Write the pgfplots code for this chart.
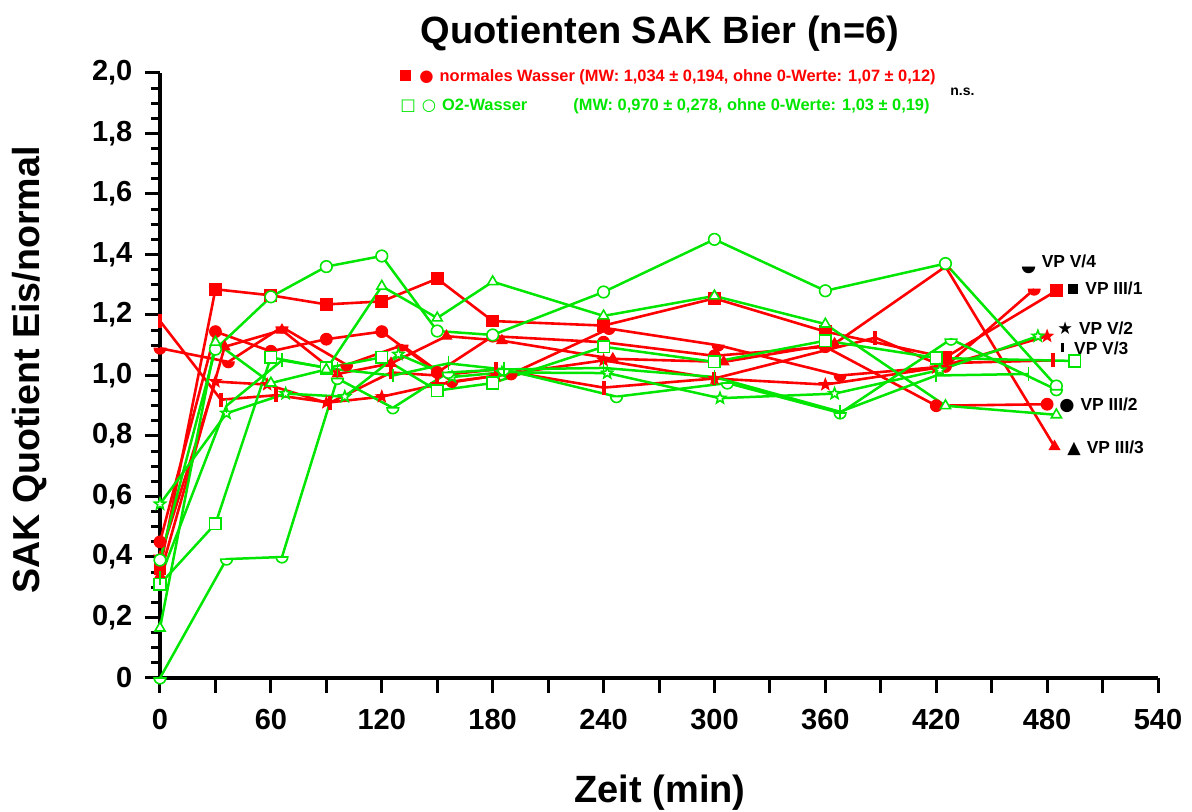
\documentclass[border=0pt]{standalone}
\usepackage{fontspec}
\setmainfont{Liberation Sans}
\newfontfamily\symfont{DejaVu Sans}
\usepackage{pgfplots}
\pgfplotsset{compat=1.18}

\definecolor{rd}{RGB}{255,0,0}
\definecolor{gn}{RGB}{0,230,0}

% lower half disk
\pgfdeclareplotmark{hdisk}{%
  \pgfpathmoveto{\pgfpoint{-\pgfplotmarksize}{0pt}}%
  \pgfpatharc{180}{360}{\pgfplotmarksize}%
  \pgfpathclose
  \pgfusepathqfillstroke}
% short vertical bar
\pgfdeclareplotmark{vbar}{%
  \pgfpathmoveto{\pgfpoint{0pt}{-1.2\pgfplotmarksize}}%
  \pgfpathlineto{\pgfpoint{0pt}{1.2\pgfplotmarksize}}%
  \pgfusepathqstroke}
% five-pointed star polygon
\pgfdeclareplotmark{pstar}{%
  \pgfpathmoveto{\pgfpointpolar{90}{\pgfplotmarksize}}%
  \pgfpathlineto{\pgfpointpolar{126}{0.42\pgfplotmarksize}}%
  \pgfpathlineto{\pgfpointpolar{162}{\pgfplotmarksize}}%
  \pgfpathlineto{\pgfpointpolar{198}{0.42\pgfplotmarksize}}%
  \pgfpathlineto{\pgfpointpolar{234}{\pgfplotmarksize}}%
  \pgfpathlineto{\pgfpointpolar{270}{0.42\pgfplotmarksize}}%
  \pgfpathlineto{\pgfpointpolar{306}{\pgfplotmarksize}}%
  \pgfpathlineto{\pgfpointpolar{342}{0.42\pgfplotmarksize}}%
  \pgfpathlineto{\pgfpointpolar{18}{\pgfplotmarksize}}%
  \pgfpathlineto{\pgfpointpolar{54}{0.42\pgfplotmarksize}}%
  \pgfpathclose
  \pgfusepathqfillstroke}

\pgfplotsset{
  redser/.style={color=rd, line width=1.3pt, mark size=2.9pt,
    mark options={solid, fill=rd, line width=0.6pt}},
  grnser/.style={color=gn, line width=1.25pt, mark size=2.9pt,
    mark options={solid, fill=white, line width=0.8pt}},
}

\begin{document}
\begin{tikzpicture}
\path[use as bounding box] (-80pt,-67pt) rectangle (516pt,339pt);
\begin{axis}[
  scale only axis, width=499pt, height=302.5pt,
  xmin=0, xmax=540, ymin=0, ymax=2,
  axis x line*=bottom, axis y line*=left,
  axis line style={line width=2pt},
  xtick={0,30,...,540},
  xticklabels={0,,60,,120,,180,,240,,300,,360,,420,,480,,540},
  ytick={0,0.2,...,2.01},
  yticklabels={0,{0,2},{0,4},{0,6},{0,8},{1,0},{1,2},{1,4},{1,6},{1,8},{2,0}},
  minor y tick num=3,
  tick align=outside,
  major tick length=7.3pt, minor tick length=4.5pt,
  every tick/.style={black, line width=1.5pt},
  tick label style={font=\bfseries\fontsize{14.5}{17}\selectfont},
  xticklabel style={yshift=-5pt},
  yticklabel style={xshift=-3pt},
  clip=false,
]
% normales Wasser (filled marks)
\addplot[redser, mark=square*] coordinates {(0,0.36) (30,1.285) (60,1.265) (90,1.235) (120,1.245) (150,1.32) (180,1.18) (240,1.165) (300,1.255) (360,1.145) (425,1.06) (485,1.28)};
\addplot[redser, mark=*] coordinates {(0,0.45) (30,1.145) (60,1.08) (90,1.12) (120,1.145) (150,1.01) (180,1.13) (240,1.11) (300,1.065) (360,1.095) (420,0.90) (480,0.905)};
\addplot[redser, mark=triangle*] coordinates {(0,0.34) (35,1.095) (66,1.15) (96,1.005) (125,1.04) (155,1.13) (185,1.115) (245,1.055) (305,1.045) (365,1.105) (425,1.36) (484,0.765)};
\addplot[redser, mark=pstar] coordinates {(0,0.40) (30,0.98) (58,0.97) (90,0.91) (120,0.93) (150,0.97) (182,1.0) (240,1.05) (300,0.99) (360,0.97) (420,1.025) (480,1.13)};
\addplot[redser, mark=hdisk] coordinates {(0,1.09) (37,1.045) (66,1.16) (101,1.035) (131,1.10) (158,0.98) (190,1.005) (243,1.155) (302,1.10) (368,1.0) (425,1.03) (473,1.285)};
\addplot[redser, mark=vbar, mark options={line width=2pt}] coordinates {(0,1.18) (33,0.92) (63,0.935) (92,0.91) (125,1.01) (150,1.0) (182,1.02) (240,0.96) (300,0.99) (387,1.125) (420,1.04) (483,1.05)};
% O2-Wasser (open marks)
\addplot[grnser, mark=square*] coordinates {(0,0.31) (30,0.51) (60,1.06) (90,1.025) (120,1.06) (150,0.95) (180,0.975) (240,1.095) (300,1.045) (360,1.115) (420,1.058) (495,1.048)};
\addplot[grnser, mark=*] coordinates {(0,0.39) (30,1.087) (60,1.26) (90,1.36) (120,1.395) (150,1.147) (180,1.134) (240,1.276) (300,1.45) (360,1.28) (425,1.37) (485,0.965)};
\addplot[grnser, mark=triangle*] coordinates {(0,0.165) (30,1.11) (60,0.975) (90,1.02) (120,1.295) (150,1.19) (180,1.31) (240,1.197) (300,1.263) (360,1.17) (425,0.90) (485,0.87)};
\addplot[grnser, mark=pstar] coordinates {(0,0.575) (36,0.875) (68,0.94) (100,0.93) (129,1.07) (158,0.995) (185,1.01) (242,1.008) (303,0.925) (365,0.94) (422,1.018) (475,1.13)};
\addplot[grnser, mark=hdisk] coordinates {(0,0.0) (36,0.393) (66,0.40) (96,0.99) (126,0.893) (156,1.01) (186,1.02) (247,0.93) (307,0.975) (368,0.876) (428,1.12) (485,0.953)};
\addplot[grnser, mark=vbar] coordinates {(0,0.33) (36,0.90) (66,1.05) (96,1.02) (126,1.0) (156,1.04) (186,1.02) (240,1.025) (300,0.995) (368,0.88) (420,1.0) (470,1.005)};
\end{axis}

% titles
\node[font=\bfseries\fontsize{19}{22}\selectfont] at (250pt,322pt) {Quotienten SAK Bier (n=6)};
\node[font=\bfseries\fontsize{18.8}{22}\selectfont, rotate=90] at (-65pt,154pt) {SAK Quotient Eis/normal};
\node[font=\bfseries\fontsize{19}{22}\selectfont] at (250pt,-57.5pt) {Zeit (min)};

% group key
\begin{scope}[every node/.style={font=\bfseries\fontsize{8.2}{10}\selectfont, inner sep=0pt}]
\node[text=rd, anchor=west] at (120pt,300.5pt) {\rule{5.5pt}{5.5pt}\hspace{4pt}{\symfont ●}\hspace{3pt}normales Wasser (MW: 1,034 ± 0,194, ohne 0-Werte: 1,07 ± 0,12)};
\node[text=gn, anchor=west] at (120pt,286pt) {{\symfont □}\hspace{3pt}{\symfont ○}\hspace{3pt}O2-Wasser};
\node[text=gn, anchor=west] at (206.5pt,286pt) {(MW: 0,970 ± 0,278, ohne 0-Werte: 1,03 ± 0,19)};
\node[anchor=west, font=\bfseries\fontsize{7}{8}\selectfont] at (395pt,293pt) {n.s.};
% subject labels
\begin{scope}[every node/.append style={font=\bfseries\fontsize{8.7}{10}\selectfont}]
\node[anchor=west] at (431pt,206.5pt) {\raisebox{1pt}{\rotatebox{-90}{\symfont ◗}}\hspace{3pt}VP V/4};
\node[anchor=west] at (454pt,195pt) {\rule{5pt}{5pt}\hspace{3.5pt}VP III/1};
\node[anchor=west] at (448.5pt,175pt) {{\symfont ★}\hspace{3pt}VP V/2};
\node[anchor=west] at (450.5pt,165pt) {\raisebox{1pt}{\rule{1.4pt}{4.5pt}}\hspace{5pt}VP V/3};
\node[anchor=west] at (449.5pt,136.5pt) {{\symfont ●}\hspace{3pt}VP III/2};
\node[anchor=west] at (453.5pt,115pt) {{\symfont ▲}\hspace{3pt}VP III/3};
\end{scope}
\end{scope}
\end{tikzpicture}
\end{document}
